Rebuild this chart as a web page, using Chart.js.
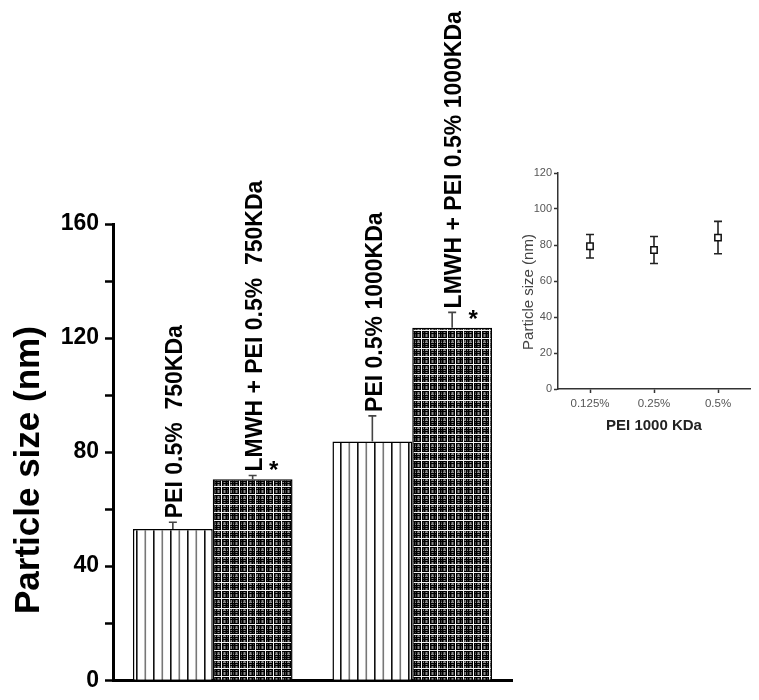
<!DOCTYPE html>
<html>
<head>
<meta charset="utf-8">
<script src="https://cdn.jsdelivr.net/npm/chart.js@4/dist/chart.umd.min.js"></script>
<style>
  html, body { margin: 0; padding: 0; background: #fff; }
  #wrap { position: relative; width: 759px; height: 700px; }
  #main { position: absolute; left: 0; top: 0; }
  #inset { position: absolute; left: 500px; top: 150px; }
</style>
</head>
<body>
<div id="wrap">
  <canvas id="main" width="759" height="700"></canvas>
  <canvas id="inset" width="259" height="300"></canvas>
</div>
<script>
// ---- Main chart data ----
const groups = ['750KDa', '1000KDa'];
const peiValues = [53, 83.7];
const peiErrors = [2.4, 9.0];
const lmwhValues = [70.5, 123.6];
const lmwhErrors = [1.3, 5.4];
const peiLabels = ['PEI 0.5%  750KDa', 'PEI 0.5% 1000KDa'];
const lmwhLabels = ['LMWH + PEI 0.5%  750KDa', 'LMWH + PEI 0.5% 1000KDa'];
const peiStars = [false, false];
const lmwhStars = [true, true];
const yTicksMain = [0, 40, 80, 120, 160];
const yTitleMain = 'Particle size (nm)';

// ---- Inset data ----
const insetCategories = ['0.125%', '0.25%', '0.5%'];
const insetValues = [79.3, 77.2, 84.1];
const insetErrors = [6.5, 7.5, 9.0];
const insetYTitle = 'Particle size (nm)';
const insetXTitle = 'PEI 1000 KDa';

const FAM = '"Liberation Sans", Arial, Helvetica, sans-serif';

function stripePattern(ctx) {
  const c = document.createElement('canvas');
  c.width = 17; c.height = 4;
  const g = c.getContext('2d');
  g.fillStyle = '#fff'; g.fillRect(0, 0, 17, 4);
  g.fillStyle = '#111'; g.fillRect(0, 0, 1.6, 4);
  g.fillStyle = '#777'; g.fillRect(8.5, 0, 1.6, 4);
  return ctx.createPattern(c, 'repeat');
}
function plaidPattern(ctx) {
  const c = document.createElement('canvas');
  const n = 26;
  c.width = n; c.height = n;
  const g = c.getContext('2d');
  g.fillStyle = '#444'; g.fillRect(0, 0, n, n);
  const gry = [2, 10, 16, 23];
  const blk = [0, 4, 6, 8, 12, 14, 18, 20, 24];
  const wht = [5, 13, 21];
  g.fillStyle = '#8a8a8a';
  gry.forEach(p => { g.fillRect(p, 0, 1, n); g.fillRect(0, (p + 2) % n, n, 1); });
  g.fillStyle = '#000';
  blk.forEach(p => { g.fillRect(p, 0, 1, n); g.fillRect(0, (p + 1) % n, n, 1); });
  g.fillStyle = '#f2f2f2';
  wht.forEach(p => { g.fillRect(p, 0, 1, n); g.fillRect(0, (p + 5) % n, n, 1); });
  return ctx.createPattern(c, 'repeat');
}

const mainCanvas = document.getElementById('main');
const mctx = mainCanvas.getContext('2d');

const errorsByDs = [peiErrors, lmwhErrors];
const labelsByDs = [peiLabels, lmwhLabels];
const starsByDs = [peiStars, lmwhStars];

const barAnnotations = {
  id: 'barAnnotations',
  afterDatasetsDraw(chart) {
    const ctx = chart.ctx;
    const y = chart.scales.y;
    chart.data.datasets.forEach((ds, di) => {
      const meta = chart.getDatasetMeta(di);
      meta.data.forEach((bar, i) => {
        const v = ds.data[i];
        const e = errorsByDs[di][i];
        const x = bar.x;
        const yTop = y.getPixelForValue(v + e);
        const yBar = y.getPixelForValue(v);
        ctx.save();
        ctx.strokeStyle = '#444';
        ctx.lineWidth = 1.6;
        ctx.beginPath();
        ctx.moveTo(x, yBar);
        ctx.lineTo(x, yTop);
        ctx.moveTo(x - 4, yTop);
        ctx.lineTo(x + 4, yTop);
        ctx.stroke();
        ctx.restore();
        ctx.save();
        const fs = 23;
        ctx.font = 'bold ' + fs + 'px ' + FAM;
        ctx.fillStyle = '#000';
        ctx.textAlign = 'left';
        ctx.textBaseline = 'alphabetic';
        ctx.translate(x + fs * 0.716 / 2 + 1, yTop - 4);
        ctx.rotate(-Math.PI / 2);
        ctx.fillText(labelsByDs[di][i], 0, 0);
        ctx.restore();
        if (starsByDs[di][i]) {
          ctx.save();
          ctx.font = 'bold 24px ' + FAM;
          ctx.fillStyle = '#000';
          ctx.textAlign = 'center';
          ctx.textBaseline = 'alphabetic';
          ctx.fillText('*', x + 21, yBar - 1);
          ctx.restore();
        }
      });
    });
  },
  afterDraw(chart) {
    const y = chart.scales.y;
    const ctx = chart.ctx;
    ctx.save();
    ctx.font = 'bold 35px ' + FAM;
    ctx.fillStyle = '#000';
    ctx.textAlign = 'center';
    ctx.textBaseline = 'middle';
    ctx.translate(29, (y.top + y.bottom) / 2 + 18);
    ctx.rotate(-Math.PI / 2);
    ctx.fillText(yTitleMain, 0, 0);
    ctx.restore();
  }
};

new Chart(mainCanvas, {
  type: 'bar',
  data: {
    labels: groups,
    datasets: [
      { label: 'PEI 0.5%', data: peiValues, backgroundColor: stripePattern(mctx), borderColor: '#000', borderWidth: 1.5, borderSkipped: 'bottom' },
      { label: 'LMWH + PEI 0.5%', data: lmwhValues, backgroundColor: plaidPattern(mctx), borderColor: '#000', borderWidth: 1.5, borderSkipped: 'bottom' }
    ]
  },
  options: {
    responsive: false,
    animation: false,
    devicePixelRatio: 1,
    layout: { padding: { left: 0, top: 224, right: 247, bottom: 0 } },
    plugins: { legend: { display: false }, tooltip: { enabled: false } },
    datasets: { bar: { categoryPercentage: 0.8, barPercentage: 1.0 } },
    scales: {
      x: {
        grid: { display: false },
        border: { display: true, color: '#000', width: 3 },
        ticks: { display: false },
        afterFit: s => { s.height = 17; }
      },
      y: {
        min: 0, max: 160,
        ticks: {
          stepSize: 20,
          callback: v => (yTicksMain.includes(v) ? String(v) : ''),
          font: { family: FAM, size: 23, weight: 'bold' },
          color: '#000',
          padding: 6
        },
        grid: { drawOnChartArea: false, drawTicks: true, tickLength: 8, tickWidth: 2.5, tickColor: '#000' },
        border: { display: true, color: '#000', width: 3 },
        title: { display: false },
        afterFit: s => { s.width = 113; }
      }
    }
  },
  plugins: [barAnnotations]
});

// ---- Inset chart ----
const insetExtras = {
  id: 'insetExtras',
  beforeDatasetsDraw(chart) {
    const ctx = chart.ctx;
    const y = chart.scales.y;
    const meta = chart.getDatasetMeta(0);
    meta.data.forEach((pt, i) => {
      const v = insetValues[i], e = insetErrors[i];
      const yt = y.getPixelForValue(v + e), yb = y.getPixelForValue(v - e);
      ctx.save();
      ctx.strokeStyle = '#222';
      ctx.lineWidth = 1.6;
      ctx.beginPath();
      ctx.moveTo(pt.x, yt); ctx.lineTo(pt.x, yb);
      ctx.moveTo(pt.x - 4, yt); ctx.lineTo(pt.x + 4, yt);
      ctx.moveTo(pt.x - 4, yb); ctx.lineTo(pt.x + 4, yb);
      ctx.stroke();
      ctx.restore();
    });
  },
  afterDraw(chart) {
    const y = chart.scales.y;
    const ctx = chart.ctx;
    ctx.save();
    ctx.font = '15px ' + FAM;
    ctx.fillStyle = '#444';
    ctx.textAlign = 'center';
    ctx.textBaseline = 'middle';
    ctx.translate(29, (y.top + y.bottom) / 2 + 11);
    ctx.rotate(-Math.PI / 2);
    ctx.fillText(insetYTitle, 0, 0);
    ctx.restore();
  }
};

new Chart(document.getElementById('inset'), {
  type: 'line',
  data: {
    labels: insetCategories,
    datasets: [{
      data: insetValues, showLine: false,
      pointStyle: 'rect', pointRadius: 4.5,
      pointBackgroundColor: '#fff', pointBorderColor: '#111', pointBorderWidth: 1.5
    }]
  },
  options: {
    responsive: false,
    animation: false,
    devicePixelRatio: 1,
    layout: { padding: { left: 0, top: 23, right: 9, bottom: 0 } },
    plugins: { legend: { display: false }, tooltip: { enabled: false } },
    scales: {
      x: {
        offset: true,
        grid: { display: true, drawOnChartArea: false, drawTicks: true, tickLength: 4, tickWidth: 1.5, tickColor: '#333' },
        border: { display: true, color: '#333', width: 1.5 },
        ticks: { font: { family: FAM, size: 11.5 }, color: '#555', padding: 4 },
        title: {
          display: true, text: insetXTitle,
          font: { family: FAM, size: 15, weight: 'bold' }, color: '#222',
          padding: { top: 0, bottom: 15 }
        },
        afterFit: s => { s.height = 61; }
      },
      y: {
        min: 0, max: 120,
        ticks: { stepSize: 20, font: { family: FAM, size: 11 }, color: '#555', padding: 2 },
        grid: { drawOnChartArea: false, drawTicks: true, tickLength: 4, tickWidth: 1.5, tickColor: '#333' },
        border: { display: true, color: '#333', width: 1.5 },
        title: { display: false },
        afterFit: s => { s.width = 58; }
      }
    }
  },
  plugins: [insetExtras]
});
</script>
</body>
</html>
